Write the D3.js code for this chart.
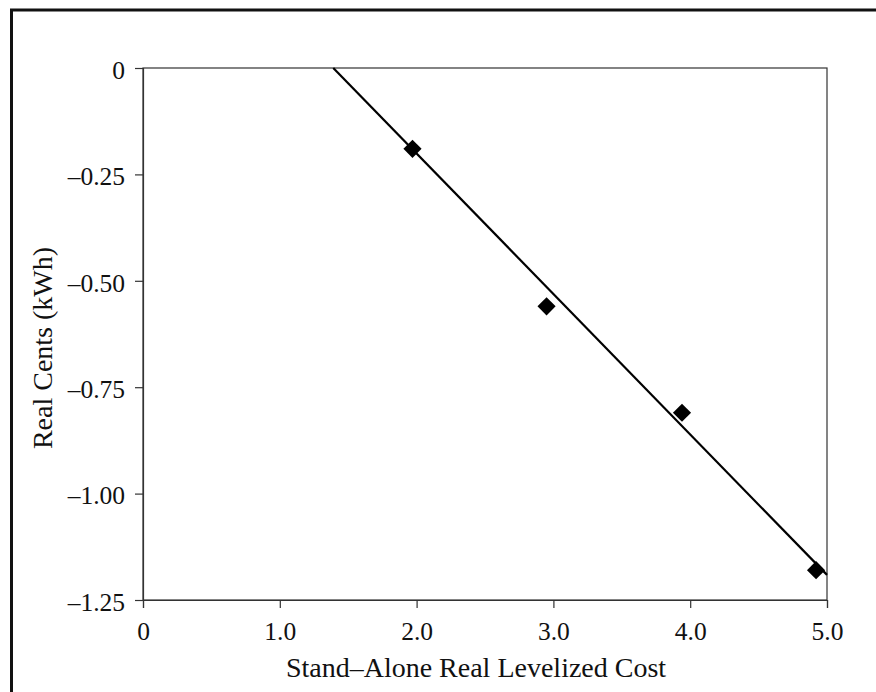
<!DOCTYPE html>
<html>
<head>
<meta charset="utf-8">
<script src="https://cdn.jsdelivr.net/npm/d3@7"></script>
<style>
  html, body { margin: 0; padding: 0; background: #fff; }
  svg { display: block; }
  svg text { font-family: "Liberation Serif", "Times New Roman", Times, serif !important; fill: #111; }
</style>
</head>
<body>
<svg id="chart" width="876" height="692"></svg>
<script>
// Stand-alone levelized cost vs. real cents per kWh
const costValues  = [1.97, 2.95, 3.94, 4.92];
const centsValues = [-0.19, -0.56, -0.81, -1.18];

// fitted trend line: cents = trendIntercept + trendSlope * cost
const trendIntercept = 0.459;
const trendSlope = -0.33;

const xTicks = [0, 1, 2, 3, 4, 5];
const xTickLabels = ["0", "1.0", "2.0", "3.0", "4.0", "5.0"];
const yTicks = [0, -0.25, -0.5, -0.75, -1.0, -1.25];
const yTickLabels = ["0", "\u20130.25", "\u20130.50", "\u20130.75", "\u20131.00", "\u20131.25"];

const xTitle = "Stand\u2013Alone Real Levelized Cost";
const yTitle = "Real Cents (kWh)";

const serif = "'Liberation Serif', 'Times New Roman', Times, serif";

const svg = d3.select("#chart");
const plot = { left: 143, right: 827, top: 68, bottom: 600 };

const x = d3.scaleLinear().domain([0, 5]).range([plot.left, plot.right]);
const y = d3.scaleLinear().domain([0, -1.25]).range([plot.top, plot.bottom]);

// outer frame
svg.append("path")
  .attr("d", `M11.5,700 L11.5,10 L880,10`)
  .attr("fill", "none")
  .attr("stroke", "#111")
  .attr("stroke-width", 3);

// plot border
svg.append("rect")
  .attr("x", plot.left).attr("y", plot.top)
  .attr("width", plot.right - plot.left)
  .attr("height", plot.bottom - plot.top)
  .attr("fill", "none")
  .attr("stroke", "#333")
  .attr("stroke-width", 1.2);

// axes
const xAxis = d3.axisBottom(x)
  .tickValues(xTicks)
  .tickFormat((d, i) => xTickLabels[i])
  .tickSize(8)
  .tickPadding(14);
const gx = svg.append("g")
  .attr("transform", `translate(0,${plot.bottom})`)
  .call(xAxis);

const yAxis = d3.axisLeft(y)
  .tickValues(yTicks)
  .tickFormat((d, i) => yTickLabels[i])
  .tickSize(8)
  .tickPadding(10);
const gy = svg.append("g")
  .attr("transform", `translate(${plot.left},0)`)
  .call(yAxis);

[gx, gy].forEach(g => {
  g.attr("font-family", serif).attr("font-size", 25.5);
  g.select(".domain").attr("stroke", "#333").attr("stroke-width", 1.2);
  g.selectAll(".tick line").attr("stroke", "#333").attr("stroke-width", 1.2);
  g.selectAll(".tick text")
    .style("font-family", serif)
    .style("font-size", "25.5px")
    .attr("fill", "#111");
});
gy.selectAll(".tick text").attr("dy", "0.4em");

// trend line, clipped to the plot area
const xStart = Math.max(0, (0 - trendIntercept) / trendSlope);
const xEnd = 5;
svg.append("line")
  .attr("x1", x(xStart)).attr("y1", y(trendIntercept + trendSlope * xStart))
  .attr("x2", x(xEnd)).attr("y2", y(trendIntercept + trendSlope * xEnd))
  .attr("stroke", "#000")
  .attr("stroke-width", 2.2);

// diamond markers
const pts = costValues.map((c, i) => ({ c, v: centsValues[i] }));
svg.selectAll("path.pt")
  .data(pts)
  .enter().append("path")
  .attr("class", "pt")
  .attr("d", d3.symbol().type(d3.symbolSquare).size(165))
  .attr("transform", d => `translate(${x(d.c)},${y(d.v)}) rotate(45)`)
  .attr("fill", "#000");

// axis titles
svg.append("text")
  .attr("x", 476).attr("y", 677)
  .attr("text-anchor", "middle")
  .style("font-family", serif)
  .style("font-size", "28px")
  .text(xTitle);

svg.append("text")
  .attr("transform", "translate(52,348) rotate(-90)")
  .attr("text-anchor", "middle")
  .style("font-family", serif)
  .style("font-size", "28px")
  .text(yTitle);
</script>
</body>
</html>
